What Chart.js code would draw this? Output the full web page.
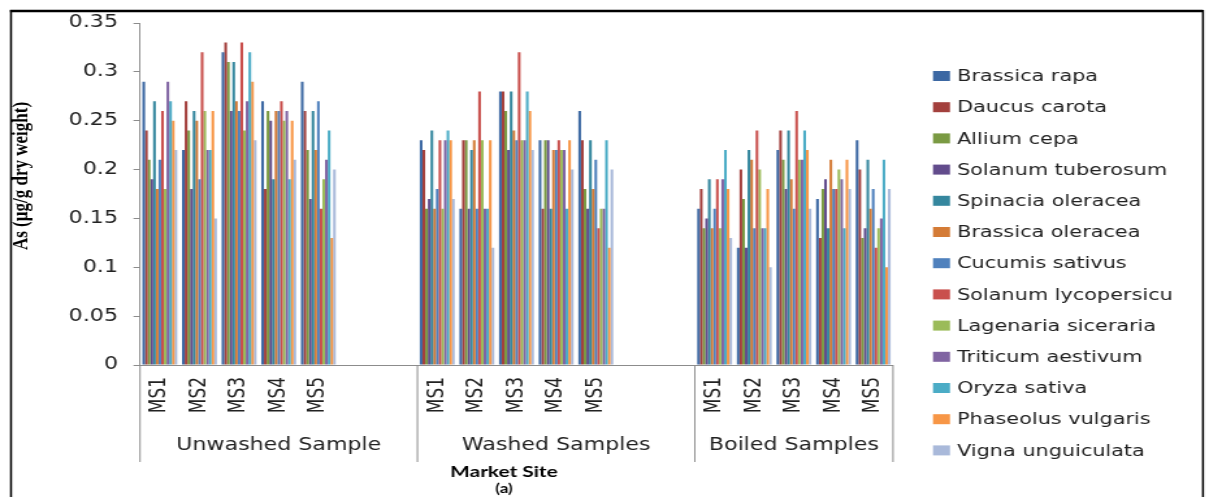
<!DOCTYPE html>
<html lang="en">

<head>
    <meta charset="UTF-8">
    <title>Arsenic in vegetables by market site</title>
    <style>
        html,
        body {
            margin: 0;
            padding: 0;
            background: #fff;
        }

        /* the chart is drawn narrow and stretched sideways, like the source image */
        #asChart {
            display: block;
            width: 1209px;
            height: 497px;
        }
    </style>
</head>

<body>
    <canvas id="asChart" width="930" height="497" style="width:1209px;height:497px"></canvas>
</body>

<script src="https://cdn.jsdelivr.net/npm/chart.js@4.4.6/dist/chart.umd.min.js"></script>
<script>
    const sites = ['MS1', 'MS2', 'MS3', 'MS4', 'MS5'];
    const treatments = ['Unwashed Sample', 'Washed Samples', 'Boiled Samples'];
    const groupSlots = [7, 7, 5]; // unwashed and washed leave two empty slots after MS5
    const yTicks = [0, 0.05, 0.1, 0.15, 0.2, 0.25, 0.3, 0.35];

    const species = ['Brassica rapa', 'Daucus carota', 'Allium cepa', 'Solanum tuberosum',
        'Spinacia oleracea', 'Brassica oleracea', 'Cucumis sativus', 'Solanum lycopersicum',
        'Lagenaria siceraria', 'Triticum aestivum', 'Oryza sativa', 'Phaseolus vulgaris',
        'Vigna unguiculata'];
    const colors = ['#3c68a3', '#a3403d', '#7a9a43', '#624c8c', '#35879e', '#d47b36',
        '#4f81bd', '#c9504d', '#9bbb59', '#8064a2', '#4bacc6', '#f79646', '#a9b9da'];

    // values: unwashed MS1-5, washed MS1-5, boiled MS1-5
    const brassicaRapa = [0.29, 0.22, 0.32, 0.27, 0.29, 0.23, 0.16, 0.28, 0.23, 0.26, 0.16, 0.12, 0.22, 0.17, 0.23];
    const daucusCarota = [0.24, 0.27, 0.33, 0.18, 0.26, 0.22, 0.23, 0.28, 0.16, 0.23, 0.18, 0.20, 0.24, 0.13, 0.20];
    const alliumCepa = [0.21, 0.24, 0.31, 0.26, 0.22, 0.16, 0.23, 0.26, 0.23, 0.18, 0.14, 0.17, 0.21, 0.18, 0.13];
    const solanumTuberosum = [0.19, 0.18, 0.26, 0.25, 0.17, 0.17, 0.16, 0.22, 0.23, 0.16, 0.15, 0.12, 0.18, 0.19, 0.14];
    const spinaciaOleracea = [0.27, 0.26, 0.31, 0.19, 0.26, 0.24, 0.22, 0.28, 0.16, 0.23, 0.19, 0.22, 0.24, 0.14, 0.21];
    const brassicaOleracea = [0.18, 0.25, 0.27, 0.26, 0.22, 0.16, 0.23, 0.24, 0.22, 0.18, 0.14, 0.21, 0.19, 0.21, 0.16];
    const cucumisSativus = [0.21, 0.19, 0.26, 0.26, 0.27, 0.18, 0.16, 0.23, 0.22, 0.21, 0.16, 0.14, 0.16, 0.18, 0.18];
    const solanumLycopersicum = [0.26, 0.32, 0.33, 0.27, 0.16, 0.23, 0.28, 0.32, 0.23, 0.14, 0.19, 0.24, 0.26, 0.18, 0.12];
    const lagenariaSiceraria = [0.18, 0.26, 0.24, 0.25, 0.19, 0.16, 0.23, 0.23, 0.22, 0.16, 0.14, 0.20, 0.21, 0.20, 0.14];
    const triticumAestivum = [0.29, 0.22, 0.27, 0.26, 0.21, 0.23, 0.16, 0.23, 0.22, 0.16, 0.19, 0.14, 0.21, 0.19, 0.15];
    const oryzaSativa = [0.27, 0.22, 0.32, 0.19, 0.24, 0.24, 0.16, 0.28, 0.16, 0.23, 0.22, 0.14, 0.24, 0.14, 0.21];
    const phaseolusVulgaris = [0.25, 0.26, 0.29, 0.25, 0.13, 0.23, 0.23, 0.26, 0.23, 0.12, 0.18, 0.18, 0.22, 0.21, 0.10];
    const vignaUnguiculata = [0.22, 0.15, 0.23, 0.21, 0.20, 0.17, 0.12, 0.22, 0.20, 0.20, 0.13, 0.10, 0.16, 0.18, 0.18];

    const seriesValues = [brassicaRapa, daucusCarota, alliumCepa, solanumTuberosum, spinaciaOleracea,
        brassicaOleracea, cucumisSativus, solanumLycopersicum, lagenariaSiceraria, triticumAestivum,
        oryzaSativa, phaseolusVulgaris, vignaUnguiculata];

    const S = 1.3; // horizontal stretch of the canvas (css width / drawing width)
    const FONT = '"DejaVu Sans", sans-serif';

    // category slots with empty ones between the treatment groups
    const labels = [];
    groupSlots.forEach(n => {
        for (let i = 0; i < n; i++) labels.push(i < sites.length ? sites[i] : '');
    });
    function spread(values) {
        const out = [];
        groupSlots.forEach((n, g) => {
            for (let i = 0; i < n; i++) out.push(i < sites.length ? values[g * sites.length + i] : null);
        });
        return out;
    }

    const decor = {
        id: 'decor',
        afterDraw(chart) {
            const { ctx, chartArea, scales: { x } } = chart;
            const slot = (x.right - x.left) / labels.length;
            ctx.save();

            // group separators and group names
            const edges = [0];
            groupSlots.forEach(n => edges.push(edges[edges.length - 1] + n));
            ctx.strokeStyle = '#8c8c8c';
            ctx.lineWidth = 1;
            edges.forEach(e => {
                const px = x.left + e * slot;
                ctx.beginPath();
                ctx.moveTo(px, chartArea.bottom);
                ctx.lineTo(px, 462);
                ctx.stroke();
            });
            ctx.fillStyle = '#222';
            ctx.font = '17px ' + FONT;
            ctx.textAlign = 'center';
            ctx.textBaseline = 'middle';
            treatments.forEach((t, i) => {
                ctx.fillText(t, x.left + (edges[i] + edges[i + 1]) / 2 * slot, 446);
            });

            // axis titles
            ctx.fillStyle = '#000';
            ctx.font = 'bold 16px Lato, sans-serif';
            ctx.fillText('Market Site', 504 / S, 472);
            ctx.font = 'bold 13px Lato, sans-serif';
            ctx.fillText('(a)', 504 / S, 489);
            ctx.save();
            ctx.translate(22 / S, 176);
            ctx.rotate(-Math.PI / 2);
            ctx.font = 'bold 17px "Liberation Serif", serif';
            ctx.fillText('As (µg/g dry weight)', 0, 0);
            ctx.restore();

            // legend, cut at the right like the source
            ctx.save();
            ctx.beginPath();
            ctx.rect(0, 0, 1172 / S, chart.height);
            ctx.clip();
            ctx.font = '16px ' + FONT;
            ctx.textAlign = 'left';
            chart.data.datasets.forEach((ds, i) => {
                const cy = 76 + i * 31.2;
                ctx.fillStyle = ds.backgroundColor;
                ctx.fillRect(933 / S, cy - 5, 17 / S, 10);
                ctx.fillStyle = '#222';
                ctx.fillText(ds.label, 957 / S, cy + 1);
            });
            ctx.restore();

            // outer frame
            ctx.strokeStyle = '#000';
            ctx.lineWidth = 2.5;
            ctx.beginPath();
            ctx.moveTo(10 / S, 11);
            ctx.lineTo(1203 / S, 11);
            ctx.stroke();
            ctx.lineWidth = 2 / S;
            ctx.beginPath();
            ctx.moveTo(11 / S, 10);
            ctx.lineTo(11 / S, chart.height);
            ctx.moveTo(1203 / S, 10);
            ctx.lineTo(1203 / S, chart.height);
            ctx.stroke();

            ctx.restore();
        }
    };

    const asChart = document.getElementById('asChart');
    const chart = new Chart(asChart, {
        type: 'bar',
        data: {
            labels: labels,
            datasets: species.map((name, i) => ({
                label: name,
                data: spread(seriesValues[i]),
                backgroundColor: colors[i],
                borderWidth: 0,
                categoryPercentage: 0.88,
                barPercentage: 1.0,
            })),
        },
        options: {
            responsive: false,
            devicePixelRatio: 1,
            animation: false,
            layout: { padding: { top: 23, left: 0, right: 930 - 893 / S, bottom: 0 } },
            scales: {
                x: {
                    grid: { display: false, drawTicks: false },
                    border: { display: true, color: '#8c8c8c' },
                    ticks: {
                        autoSkip: false,
                        minRotation: 90,
                        maxRotation: 90,
                        padding: 12,
                        color: '#222',
                        font: { family: FONT, size: 17 },
                    },
                    afterFit: (scale) => { scale.height = 497 - 365; },
                },
                y: {
                    min: 0,
                    max: 0.35,
                    afterBuildTicks: (scale) => { scale.ticks = yTicks.map(v => ({ value: v })); },
                    grid: { drawOnChartArea: false, drawTicks: true, tickLength: 5, color: '#8c8c8c' },
                    border: { display: true, color: '#8c8c8c' },
                    ticks: {
                        padding: 12,
                        color: '#222',
                        font: { family: FONT, size: 17 },
                        callback: (value) => String(+(+value).toFixed(2)),
                    },
                    afterFit: (scale) => { scale.width = 140 / S; },
                },
            },
            plugins: {
                legend: { display: false },
                tooltip: { enabled: false },
            },
        },
        plugins: [decor],
    });
</script>

</html>
